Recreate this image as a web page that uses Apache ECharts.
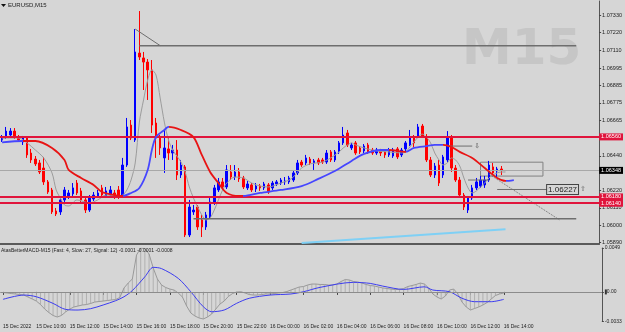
<!DOCTYPE html>
<html>
<head>
<meta charset="utf-8">
<script src="https://cdn.jsdelivr.net/npm/echarts@6/dist/echarts.min.js"></script>
<style>
html, body { margin: 0; padding: 0; background: #d6d6d6; }
#chart { width: 625px; height: 332px; }
</style>
</head>
<body>
<div id="chart"></div>
<script>
// EURUSD M15, 15 Dec 2022 08:00 -> 16 Dec 2022 14:00 (121 bars, chart shifted right)
const slotCount = 144;
const timeLabels = ['15 Dec 2022', '15 Dec 10:00', '15 Dec 12:00', '15 Dec 14:00', '15 Dec 16:00',
  '15 Dec 18:00', '15 Dec 20:00', '15 Dec 22:00', '16 Dec 00:00', '16 Dec 02:00', '16 Dec 04:00',
  '16 Dec 06:00', '16 Dec 08:00', '16 Dec 10:00', '16 Dec 12:00', '16 Dec 14:00'];

const open = [1.06540,1.06559,1.06572,1.06597,1.06559,1.06528,1.06553,1.06458,1.06420,1.06395,
  1.06363,1.06275,1.06224,1.06091,1.06085,1.06161,1.06186,1.06199,1.06268,1.06218,
  1.06161,1.06097,1.06167,1.06186,1.06237,1.06186,1.06192,1.06205,1.06224,1.06180,
  1.06382,1.06635,1.06540,1.07091,1.07060,1.07034,1.06984,1.06648,1.06553,1.06427,
  1.06484,1.06458,1.06477,1.06319,1.06370,1.05939,1.06085,1.06116,1.06034,1.05990,
  1.06053,1.06148,1.06224,1.06275,1.06243,1.06338,1.06306,1.06338,1.06300,1.06237,
  1.06256,1.06230,1.06249,1.06237,1.06256,1.06237,1.06262,1.06268,1.06275,1.06275,
  1.06287,1.06332,1.06401,1.06395,1.06420,1.06395,1.06414,1.06414,1.06401,1.06465,
  1.06414,1.06465,1.06522,1.06585,1.06490,1.06522,1.06490,1.06471,1.06509,1.06477,
  1.06458,1.06471,1.06465,1.06446,1.06439,1.06484,1.06446,1.06484,1.06509,1.06559,
  1.06566,1.06629,1.06559,1.06414,1.06319,1.06382,1.06319,1.06414,1.06553,1.06363,
  1.06287,1.06192,1.06097,1.06173,1.06237,1.06249,1.06256,1.06287,1.06370,1.06344,
  1.06357];
const close = [1.06559,1.06597,1.06597,1.06559,1.06540,1.06553,1.06446,1.06414,1.06389,1.06338,
  1.06275,1.06211,1.06085,1.06072,1.06161,1.06224,1.06205,1.06237,1.06205,1.06161,
  1.06097,1.06173,1.06192,1.06205,1.06192,1.06218,1.06224,1.06186,1.06180,1.06382,
  1.06623,1.06553,1.07098,1.07066,1.07034,1.06984,1.06635,1.06553,1.06490,1.06490,
  1.06458,1.06477,1.06319,1.06382,1.05939,1.06116,1.06097,1.05990,1.05990,1.06066,
  1.06148,1.06237,1.06275,1.06243,1.06351,1.06306,1.06338,1.06294,1.06243,1.06262,
  1.06224,1.06249,1.06237,1.06262,1.06211,1.06268,1.06275,1.06287,1.06281,1.06300,
  1.06332,1.06395,1.06382,1.06427,1.06395,1.06408,1.06395,1.06401,1.06458,1.06414,
  1.06465,1.06522,1.06572,1.06509,1.06509,1.06458,1.06465,1.06502,1.06465,1.06458,
  1.06477,1.06458,1.06446,1.06477,1.06477,1.06433,1.06477,1.06522,1.06559,1.06522,
  1.06623,1.06566,1.06414,1.06319,1.06376,1.06268,1.06433,1.06559,1.06363,1.06287,
  1.06192,1.06116,1.06173,1.06237,1.06275,1.06287,1.06287,1.06382,1.06332,1.06357,
  1.06348];
const low = [1.06528,1.06547,1.06566,1.06547,1.06528,1.06509,1.06427,1.06395,1.06376,1.06325,
  1.06256,1.06199,1.06072,1.06059,1.06066,1.06148,1.06167,1.06186,1.06192,1.06148,
  1.06078,1.06085,1.06154,1.06173,1.06180,1.06173,1.06180,1.06167,1.06167,1.06173,
  1.06370,1.06540,1.06528,1.07047,1.06857,1.06794,1.06585,1.06427,1.06446,1.06332,
  1.06414,1.06414,1.06287,1.06300,1.05926,1.05926,1.06066,1.05971,1.05926,1.05971,
  1.06040,1.06129,1.06211,1.06224,1.06230,1.06287,1.06287,1.06275,1.06230,1.06224,
  1.06211,1.06211,1.06218,1.06224,1.06199,1.06224,1.06249,1.06256,1.06256,1.06262,
  1.06275,1.06319,1.06370,1.06382,1.06382,1.06351,1.06382,1.06389,1.06389,1.06401,
  1.06401,1.06452,1.06509,1.06496,1.06477,1.06446,1.06452,1.06458,1.06452,1.06446,
  1.06446,1.06439,1.06427,1.06433,1.06427,1.06420,1.06433,1.06471,1.06502,1.06496,
  1.06553,1.06553,1.06401,1.06306,1.06300,1.06249,1.06300,1.06401,1.06338,1.06275,
  1.06180,1.06097,1.06078,1.06161,1.06224,1.06237,1.06237,1.06275,1.06319,1.06306,
  1.06319];
const high = [1.06572,1.06623,1.06616,1.06616,1.06572,1.06566,1.06559,1.06484,1.06439,1.06414,
  1.06433,1.06287,1.06237,1.06110,1.06173,1.06243,1.06224,1.06268,1.06287,1.06237,
  1.06173,1.06192,1.06211,1.06224,1.06256,1.06243,1.06249,1.06224,1.06249,1.06427,
  1.06680,1.06667,1.07243,1.07357,1.07098,1.07053,1.07047,1.06680,1.06572,1.06604,
  1.06553,1.06509,1.06540,1.06414,1.06382,1.06161,1.06129,1.06129,1.06066,1.06085,
  1.06173,1.06256,1.06300,1.06300,1.06382,1.06382,1.06382,1.06363,1.06313,1.06281,
  1.06268,1.06268,1.06262,1.06275,1.06268,1.06281,1.06287,1.06300,1.06306,1.06313,
  1.06344,1.06414,1.06414,1.06446,1.06433,1.06420,1.06427,1.06427,1.06477,1.06477,
  1.06477,1.06534,1.06623,1.06604,1.06522,1.06534,1.06502,1.06515,1.06522,1.06490,
  1.06490,1.06484,1.06477,1.06490,1.06490,1.06496,1.06490,1.06534,1.06604,1.06572,
  1.06642,1.06642,1.06578,1.06433,1.06395,1.06414,1.06446,1.06597,1.06572,1.06382,
  1.06306,1.06205,1.06186,1.06256,1.06300,1.06313,1.06313,1.06408,1.06395,1.06370,
  1.06376];

// thin grey fast average [bar, price]
const fastMa = [[0,1.06547],[1,1.06553],[4,1.06553],[6,1.06522],[8,1.06477],[10,1.06427],[12,1.06332],
  [13,1.06224],[14,1.06173],[15,1.06129],[16,1.06123],[18,1.06161],[21,1.06142],[23,1.06161],
  [25,1.06192],[28,1.06186],[29,1.06192],[30,1.06224],[31,1.06287],[32,1.06395],[33,1.06654],
  [34,1.06794],[35,1.06920],[36,1.06984],[37,1.06952],[38,1.06806],[39,1.06654],[40,1.06540],
  [41,1.06477],[43,1.06401],[44,1.06338],[45,1.06243],[46,1.06173],[47,1.06116],[48,1.06066],
  [49,1.06034],[50,1.06047],[51,1.06097],[52,1.06161],[53,1.06224],[54,1.06268],[56,1.06306],
  [58,1.06300],[60,1.06268],[62,1.06249],[64,1.06243],[67,1.06268],[69,1.06287],[70,1.06306],
  [72,1.06363],[74,1.06389],[77,1.06401],[79,1.06427],[81,1.06465],[82,1.06490],[83,1.06509],
  [84,1.06522],[85,1.06509],[87,1.06490],[90,1.06471],[93,1.06465],[96,1.06458],[97,1.06465],
  [98,1.06496],[100,1.06559],[101,1.06578],[102,1.06559],[103,1.06522],[104,1.06458],[105,1.06414],
  [106,1.06382],[107,1.06395],[108,1.06427],[109,1.06414],[110,1.06376],[111,1.06300],[112,1.06237],
  [113,1.06205],[114,1.06218],[115,1.06243],[116,1.06268],[117,1.06300],[118,1.06319],[119,1.06332],
  [120,1.06338],[121,1.06338]];

// two-colour shifted average (blue rising, red falling)
const slowMa = [[0,1.06525],[5,1.06534],[8,1.06534],[12,1.06490],[15,1.06414],[16,1.06351],[19,1.06300],
  [22,1.06256],[24,1.06211],[27,1.06192],[29,1.06186],[31,1.06205],[33,1.06237],[35,1.06351],
  [36,1.06477],[37,1.06559],[39,1.06604],[40,1.06623],[43,1.06604],[46,1.06559],[48,1.06446],
  [50,1.06338],[52,1.06268],[54,1.06205],[57,1.06186],[58,1.06186],[62,1.06205],[67,1.06224],
  [72,1.06249],[76,1.06294],[80,1.06344],[84,1.06408],[87,1.06452],[91,1.06477],[93,1.06477],
  [97,1.06465],[99,1.06490],[102,1.06502],[104,1.06509],[106,1.06509],[108,1.06496],[110,1.06465],
  [113,1.06427],[116,1.06363],[119,1.06300],[121,1.06281],[123,1.06287]];
const slowMaFalling = [[5, 29], [40, 58], [93, 97], [106, 121]];

const skyLine = [[72, 1.05888], [121, 1.05975]];

const levels = [1.06560, 1.06180, 1.06140];
const lastPrice = 1.06348;
const priceTicks = [1.07330, 1.07220, 1.07110, 1.06995, 1.06885, 1.06775, 1.06665, 1.06440,
  1.06220, 1.06110, 1.06000, 1.05890];

// drawn objects [bar, price]
const topTrend = [[32, 1.07243], [38, 1.07138]];
const topLevel = [[33, 1.07138], [138, 1.07138]];
const lowLevel = [[46, 1.06042], [138, 1.06042]];
const downMark = [[107, 1.06502], [113, 1.06502]];
const targetLine = [[119, 1.06227], [131, 1.06227]];
const shortLine = [[112, 1.06287], [117, 1.06287]];
const dropTrend = [[117, 1.06325], [134, 1.06034]];
const box = [[115, 1.06400], [130, 1.06312]];

// MACD histogram per bar and signal line
const macdHist = [-0.00007,-0.00012,-0.00018,-0.00023,-0.00029,-0.00035,-0.00057,-0.00079,-0.00102,-0.00141,
  -0.00191,-0.00230,-0.00263,-0.00280,-0.00263,-0.00224,-0.00191,-0.00168,-0.00157,-0.00146,
  -0.00141,-0.00129,-0.00113,-0.00107,-0.00102,-0.00096,-0.00090,-0.00085,-0.00062,0.00044,
  0.00099,0.00144,0.00412,0.00488,0.00484,0.00423,0.00267,0.00144,0.00077,0.00049,
  0.00032,0.00021,-0.00012,-0.00057,-0.00157,-0.00235,-0.00269,-0.00291,-0.00302,-0.00280,
  -0.00247,-0.00191,-0.00135,-0.00102,-0.00051,-0.00018,-0.00001,0.00002,-0.00012,-0.00029,
  -0.00035,-0.00035,-0.00029,-0.00023,-0.00023,-0.00018,-0.00012,-0.00007,0.00004,0.00021,
  0.00038,0.00055,0.00060,0.00077,0.00088,0.00088,0.00083,0.00083,0.00077,0.00077,
  0.00088,0.00116,0.00138,0.00133,0.00116,0.00110,0.00099,0.00083,0.00071,0.00066,
  0.00055,0.00044,0.00038,0.00032,0.00027,0.00027,0.00038,0.00060,0.00071,0.00083,
  0.00099,0.00088,0.00044,-0.00023,-0.00057,-0.00079,-0.00046,0.00021,0.00032,-0.00023,
  -0.00113,-0.00168,-0.00202,-0.00185,-0.00168,-0.00146,-0.00118,-0.00079,-0.00040,-0.00023,
  -0.00012];
const macdSignal = [[0,-0.00083],[5,-0.00035],[8,-0.00054],[12,-0.00128],[15,-0.00195],[18,-0.00202],
  [21,-0.00187],[24,-0.00146],[27,-0.00098],[29,-0.00054],[31,0.00015],[34,0.00169],[36,0.00274],
  [38,0.00260],[42,0.00151],[45,0.00002],[48,-0.00165],[50,-0.00221],[53,-0.00202],[56,-0.00127],
  [59,-0.00071],[64,-0.00035],[69,-0.00023],[72,0.00002],[76,0.00051],[84,0.00107],[88,0.00095],
  [91,0.00065],[96,0.00028],[101,0.00057],[103,0.00021],[107,0.00002],[110,-0.00071],[113,-0.00109],
  [117,-0.00109],[120,-0.00083]];
const macdTicks = [0.0049, 0, -0.0033];

const font = 'Liberation Sans, Arial, sans-serif';
const red = '#e0143c';
const maBlue = '#4646ff';
const maRed = '#e81414';

const categories = [];
for (let i = 0; i < slotCount; i++) {
  const t = new Date(Date.UTC(2022, 11, 15, 8, 0) + i * 15 * 60000);
  categories.push(t.getUTCDate() + ' Dec ' + String(t.getUTCHours()).padStart(2, '0') + ':' +
    String(t.getUTCMinutes()).padStart(2, '0'));
}
const candles = open.map((o, i) => [o, close[i], low[i], high[i]]);

const maPieces = [];
let from = -Infinity;
slowMaFalling.forEach(([s, e]) => {
  maPieces.push({ gte: from, lt: s, color: maBlue });
  maPieces.push({ gte: s, lt: e, color: maRed });
  from = e;
});
maPieces.push({ gte: from, color: maBlue });

const labelEvery = (i) => i % 8 === 0 && i / 8 < timeLabels.length;
const gridLeft = -4.1, gridWidth = 605.95;

function objLine(data, extra) {
  return Object.assign({
    type: 'line', xAxisIndex: 0, yAxisIndex: 0, data: data, symbol: 'none', silent: true,
    lineStyle: { color: '#6e6e6e', width: 1 }, z: 4
  }, extra || {});
}

const levelMarks = levels.map((v) => ({
  yAxis: v, lineStyle: { color: red, width: 2, type: 'solid' },
  label: { formatter: v.toFixed(5), backgroundColor: red, color: '#fff' }
}));
levelMarks.push({
  yAxis: lastPrice, lineStyle: { color: '#a8a8a8', width: 1, type: 'solid' },
  label: { formatter: lastPrice.toFixed(5), backgroundColor: '#000', color: '#fff' }
});

const chart = echarts.init(document.getElementById('chart'));
chart.setOption({
  animation: false,
  backgroundColor: '#d6d6d6',
  title: [
    { text: 'EURUSD,M15', left: 8, top: 2, padding: 0,
      textStyle: { fontSize: 6, fontWeight: 'normal', color: '#222', fontFamily: font } },
    { text: 'AtasBetterMACD-M15 (Fast: 4, Slow: 27, Signal: 12) -0.0001 -0.0001 -0.0008', left: 1, top: 248,
      padding: 0, textStyle: { fontSize: 5, fontWeight: 'normal', color: '#222', fontFamily: font } }
  ],
  graphic: [
    { type: 'polygon', shape: { points: [[1, 4], [6, 4], [3.5, 7]] }, style: { fill: '#111' } },
    { type: 'text', left: 462, top: 26, silent: true,
      style: { text: 'M15', fontSize: 50, fontWeight: 'bold', fontFamily: 'DejaVu Sans', fill: '#c6c6c6' } }
  ],
  grid: [
    { left: gridLeft, width: gridWidth, top: 1, height: 243 },
    { left: gridLeft, width: gridWidth, top: 248, height: 73.5 }
  ],
  xAxis: [
    { type: 'category', gridIndex: 0, data: categories, boundaryGap: true,
      axisLine: { show: true, lineStyle: { color: '#5a5a5a', width: 2 } },
      axisTick: { show: false }, axisLabel: { show: false }, splitLine: { show: false } },
    { type: 'category', gridIndex: 1, data: categories, boundaryGap: true,
      axisLine: { show: true, lineStyle: { color: '#6a6a6a', width: 1 } },
      axisTick: { show: true, interval: labelEvery, alignWithLabel: true, length: 3,
        lineStyle: { color: '#444' } },
      axisLabel: { interval: labelEvery, formatter: (v, i) => timeLabels[i / 8], align: 'left',
        fontSize: 5, color: '#222', margin: 3, fontFamily: font },
      splitLine: { show: false } }
  ],
  yAxis: [
    { type: 'value', gridIndex: 0, position: 'right', min: 1.058819, max: 1.074206,
      axisLine: { show: true, lineStyle: { color: '#555', width: 1 } },
      axisTick: { show: true, customValues: priceTicks, length: 2, lineStyle: { color: '#444' } },
      axisLabel: { customValues: priceTicks, formatter: (v) => v.toFixed(5), fontSize: 5.5,
        color: '#222', margin: 3, fontFamily: font },
      splitLine: { show: false } },
    { type: 'value', gridIndex: 1, position: 'right', min: -0.0033, max: 0.0049,
      axisLine: { show: true, lineStyle: { color: '#555', width: 1 } },
      axisTick: { show: true, customValues: macdTicks, length: 2, lineStyle: { color: '#444' } },
      axisLabel: { customValues: macdTicks, fontSize: 5, color: '#222', margin: 3, fontFamily: font,
        formatter: (v) => v === 0 ? '{m|}0.00' : v.toFixed(4),
        rich: { m: { width: 2, height: 5, backgroundColor: '#333' } } },
      splitLine: { show: false } }
  ],
  visualMap: [
    { type: 'piecewise', show: false, seriesIndex: 2, dimension: 0, pieces: maPieces }
  ],
  series: [
    { type: 'candlestick', xAxisIndex: 0, yAxisIndex: 0, data: candles, barWidth: 2,
      itemStyle: { color: '#0000ff', color0: '#ff0000', borderColor: '#0000ff', borderColor0: '#ff0000',
        borderWidth: 1 },
      z: 3 },
    { type: 'line', xAxisIndex: 0, yAxisIndex: 0, data: fastMa, symbol: 'none', smooth: 0.3,
      lineStyle: { color: '#9c9c9c', width: 1 }, z: 4,
      markLine: {
        symbol: 'none', silent: true, animation: false, precision: 6,
        label: { position: 'end', distance: 0, fontSize: 5.5, fontFamily: font, padding: [1, 2, 0, 2] },
        data: levelMarks
      } },
    { type: 'line', xAxisIndex: 0, yAxisIndex: 0, data: slowMa, symbol: 'none', smooth: 0.3,
      lineStyle: { width: 1.8 }, z: 5 },
    objLine(skyLine, { lineStyle: { color: '#7fd0f5', width: 2 } }),
    objLine(topTrend),
    objLine(topLevel, { lineStyle: { color: '#6e6e6e', width: 1.5 } }),
    objLine(lowLevel, { lineStyle: { color: '#6e6e6e', width: 1.5 } }),
    objLine(shortLine),
    objLine(dropTrend, { lineStyle: { color: '#6e6e6e', width: 1, type: 'dotted' } }),
    objLine(downMark, { endLabel: { show: true, formatter: '\u21e9', fontSize: 7, color: '#555',
      distance: 2, fontFamily: 'DejaVu Sans' } }),
    objLine(targetLine, {
      endLabel: { show: true, distance: 0, formatter: '{b|1.06227}{a|\u21e7}',
        rich: {
          b: { fontSize: 8, fontFamily: font, color: '#222', borderColor: '#444', borderWidth: 1,
            padding: [1, 1, 0, 1], backgroundColor: '#d6d6d6' },
          a: { fontSize: 7, fontFamily: 'DejaVu Sans', color: '#666', padding: [0, 0, 0, 2] }
        } },
      markArea: { silent: true, itemStyle: { color: 'rgba(0,0,0,0)', borderColor: '#808080', borderWidth: 1 },
        data: [[{ coord: box[0] }, { coord: box[1] }]] } }),
    { type: 'bar', xAxisIndex: 1, yAxisIndex: 1, data: macdHist, barWidth: 1, silent: true,
      itemStyle: { color: '#b0b0b0' },
      markLine: { symbol: 'none', silent: true, label: { show: false }, precision: 6,
        lineStyle: { color: '#8c8c8c', width: 1, type: 'solid' }, data: [{ yAxis: 0 }] } },
    { type: 'line', xAxisIndex: 1, yAxisIndex: 1, data: macdHist, symbol: 'none',
      lineStyle: { color: '#999', width: 1 }, z: 3 },
    { type: 'line', xAxisIndex: 1, yAxisIndex: 1, data: macdSignal, symbol: 'none', smooth: 0.3,
      lineStyle: { color: '#3c3cf0', width: 1 }, z: 4 }
  ]
});
</script>
</body>
</html>
